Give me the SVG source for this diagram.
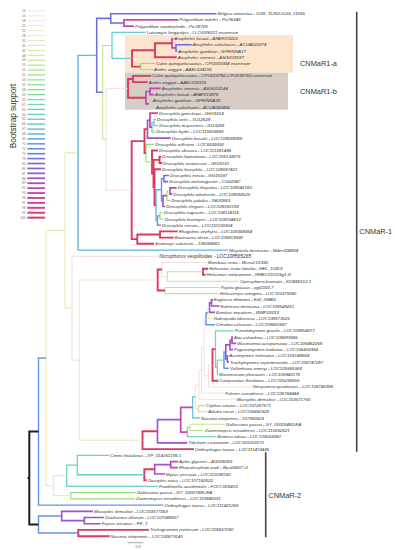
<svg xmlns="http://www.w3.org/2000/svg" width="395" height="550" viewBox="0 0 395 550">
<style>
.t{font-family:"Liberation Sans",Arial,sans-serif;font-style:italic;font-size:4.4px;fill:#333}
.lg{font-family:"Liberation Sans",Arial,sans-serif;font-size:3.4px;fill:#777;text-anchor:end}
.cl{font-family:"Liberation Sans",Arial,sans-serif;font-size:7.4px;fill:#333}
#connectors path{fill:none;stroke-linecap:butt;stroke-linejoin:miter}
.k{stroke:#1e1e1e;stroke-width:2}
.r{stroke:#dc3a5e;stroke-width:1.9}
.m{stroke:#c746b8;stroke-width:1.75}
.p{stroke:#9c55cb;stroke-width:1.65}
.v{stroke:#6a6fe0;stroke-width:1.55}
.b{stroke:#6495e5;stroke-width:1.45}
.lb{stroke:#62b4e4;stroke-width:1.4}
.c{stroke:#68cfcf;stroke-width:1.3}
.mt{stroke:#72d8a4;stroke-width:1.25}
.g{stroke:#96db75;stroke-width:1.15}
.yg{stroke:#c4e388;stroke-width:1.05}
.py{stroke:#e5e6a5;stroke-width:0.95}
.tn{stroke:#efdfb7;stroke-width:0.85}
.pc{stroke:#f3d7c6;stroke-width:0.8}
.pp{stroke:#f3cfd3;stroke-width:0.75}
.bar{stroke:#444;stroke-width:1.6;fill:none}
</style>
<g id="clade-boxes">
<rect x="125" y="35" width="168" height="37.7" fill="#fde4cc"/>
<rect x="125" y="72.7" width="163" height="37" fill="#d8ccc6"/>
</g>
<g id="legend">
<text x="16" y="116" transform="rotate(-90 16 116)" font-family="Liberation Sans,Arial,sans-serif" font-size="8.2" fill="#333" text-anchor="middle">Bootstrap support</text>
<g fill="none">
<path d="M27.3 11H45" stroke="#f3cfd3" stroke-width="0.7"/>
<path d="M27.3 15.92H45" stroke="#f4d3cd" stroke-width="0.73"/>
<path d="M27.3 20.84H45" stroke="#f3d7c6" stroke-width="0.76"/>
<path d="M27.3 25.76H45" stroke="#f1dbbf" stroke-width="0.79"/>
<path d="M27.3 30.68H45" stroke="#efdfb7" stroke-width="0.82"/>
<path d="M27.3 35.6H45" stroke="#ebe3ae" stroke-width="0.85"/>
<path d="M27.3 40.52H45" stroke="#e5e6a5" stroke-width="0.89"/>
<path d="M27.3 45.44H45" stroke="#dbe69b" stroke-width="0.92"/>
<path d="M27.3 50.36H45" stroke="#d0e591" stroke-width="0.95"/>
<path d="M27.3 55.28H45" stroke="#c4e388" stroke-width="0.98"/>
<path d="M27.3 60.2H45" stroke="#b9e180" stroke-width="1.01"/>
<path d="M27.3 65.12H45" stroke="#addf7a" stroke-width="1.04"/>
<path d="M27.3 70.04H45" stroke="#a1dd76" stroke-width="1.07"/>
<path d="M27.3 74.96H45" stroke="#96db75" stroke-width="1.1"/>
<path d="M27.3 79.88H45" stroke="#8dd977" stroke-width="1.13"/>
<path d="M27.3 84.8H45" stroke="#85d87d" stroke-width="1.16"/>
<path d="M27.3 89.72H45" stroke="#7ed887" stroke-width="1.2"/>
<path d="M27.3 94.64H45" stroke="#78d894" stroke-width="1.23"/>
<path d="M27.3 99.56H45" stroke="#73d8a1" stroke-width="1.26"/>
<path d="M27.3 104.48H45" stroke="#6fd8af" stroke-width="1.29"/>
<path d="M27.3 109.4H45" stroke="#6cd6bd" stroke-width="1.32"/>
<path d="M27.3 114.32H45" stroke="#69d2c9" stroke-width="1.35"/>
<path d="M27.3 119.24H45" stroke="#66ccd4" stroke-width="1.38"/>
<path d="M27.3 124.16H45" stroke="#64c4dd" stroke-width="1.41"/>
<path d="M27.3 129.08H45" stroke="#62bae3" stroke-width="1.44"/>
<path d="M27.3 134H45" stroke="#61afe6" stroke-width="1.47"/>
<path d="M27.3 138.92H45" stroke="#62a2e6" stroke-width="1.5"/>
<path d="M27.3 143.84H45" stroke="#6495e5" stroke-width="1.54"/>
<path d="M27.3 148.76H45" stroke="#6888e3" stroke-width="1.57"/>
<path d="M27.3 153.68H45" stroke="#6d7ce0" stroke-width="1.6"/>
<path d="M27.3 158.6H45" stroke="#7471dc" stroke-width="1.63"/>
<path d="M27.3 163.52H45" stroke="#7c68d8" stroke-width="1.66"/>
<path d="M27.3 168.44H45" stroke="#8761d4" stroke-width="1.69"/>
<path d="M27.3 173.36H45" stroke="#935acf" stroke-width="1.72"/>
<path d="M27.3 178.28H45" stroke="#9f54ca" stroke-width="1.75"/>
<path d="M27.3 183.2H45" stroke="#ab4ec4" stroke-width="1.78"/>
<path d="M27.3 188.12H45" stroke="#b74abd" stroke-width="1.81"/>
<path d="M27.3 193.04H45" stroke="#c246b4" stroke-width="1.85"/>
<path d="M27.3 197.96H45" stroke="#cb43a8" stroke-width="1.88"/>
<path d="M27.3 202.88H45" stroke="#d3409a" stroke-width="1.91"/>
<path d="M27.3 207.8H45" stroke="#d83e88" stroke-width="1.94"/>
<path d="M27.3 212.72H45" stroke="#db3c73" stroke-width="1.97"/>
<path d="M27.3 217.64H45" stroke="#dc3a5e" stroke-width="2"/>
</g>
<text class="lg" x="25.7" y="12.2">13</text>
<text class="lg" x="25.7" y="17.1">14</text>
<text class="lg" x="25.7" y="22">18</text>
<text class="lg" x="25.7" y="27">21</text>
<text class="lg" x="25.7" y="31.9">25</text>
<text class="lg" x="25.7" y="36.8">28</text>
<text class="lg" x="25.7" y="41.7">31</text>
<text class="lg" x="25.7" y="46.6">42</text>
<text class="lg" x="25.7" y="51.6">45</text>
<text class="lg" x="25.7" y="56.5">48</text>
<text class="lg" x="25.7" y="61.4">49</text>
<text class="lg" x="25.7" y="66.3">50</text>
<text class="lg" x="25.7" y="71.2">51</text>
<text class="lg" x="25.7" y="76.2">52</text>
<text class="lg" x="25.7" y="81.1">53</text>
<text class="lg" x="25.7" y="86">55</text>
<text class="lg" x="25.7" y="90.9">58</text>
<text class="lg" x="25.7" y="95.8">59</text>
<text class="lg" x="25.7" y="100.8">61</text>
<text class="lg" x="25.7" y="105.7">62</text>
<text class="lg" x="25.7" y="110.6">63</text>
<text class="lg" x="25.7" y="115.5">64</text>
<text class="lg" x="25.7" y="120.4">65</text>
<text class="lg" x="25.7" y="125.4">66</text>
<text class="lg" x="25.7" y="130.3">67</text>
<text class="lg" x="25.7" y="135.2">68</text>
<text class="lg" x="25.7" y="140.1">69</text>
<text class="lg" x="25.7" y="145">70</text>
<text class="lg" x="25.7" y="150">72</text>
<text class="lg" x="25.7" y="154.9">74</text>
<text class="lg" x="25.7" y="159.8">78</text>
<text class="lg" x="25.7" y="164.7">85</text>
<text class="lg" x="25.7" y="169.6">86</text>
<text class="lg" x="25.7" y="174.6">87</text>
<text class="lg" x="25.7" y="179.5">88</text>
<text class="lg" x="25.7" y="184.4">89</text>
<text class="lg" x="25.7" y="189.3">92</text>
<text class="lg" x="25.7" y="194.2">93</text>
<text class="lg" x="25.7" y="199.2">94</text>
<text class="lg" x="25.7" y="204.1">97</text>
<text class="lg" x="25.7" y="209">98</text>
<text class="lg" x="25.7" y="213.9">99</text>
<text class="lg" x="25.7" y="218.8">100</text>
</g>
<g id="connectors">
<path class="m" d="M178.3 19.9H124V26.1H134"/>
<path class="v" d="M216.7 13.7H110.7V23H124"/>
<path class="v" d="M191.7 44.8H176V51H177.3"/>
<path class="m" d="M173.3 38.6H172V47.9H176"/>
<path class="r" d="M172 43.25H155V57.2H176.7"/>
<path class="g" d="M155 63.5H140.5V69.7H153"/>
<path class="r" d="M155 50.23H132V66.6H140.5"/>
<path class="c" d="M145.7 32.4H112V58.4H132"/>
<path class="r" d="M151.3 75.9H133V82.1H147.7"/>
<path class="m" d="M160.7 88.3H150V94.6H154"/>
<path class="yg" d="M151.7 100.8H149V107H155"/>
<path class="p" d="M150 91.45H146V103.9H149"/>
<path class="r" d="M133 79H128V97.68H146"/>
<path class="c" d="M155.7 119.4H154V125.7H158.3"/>
<path class="c" d="M154 122.55H152V131.9H155.3"/>
<path class="m" d="M158 113.2H150V127.23H152"/>
<path class="p" d="M150 120.2H147.5V138.1H170.7"/>
<path class="v" d="M169 175.4H164V181.6H168"/>
<path class="m" d="M176.7 187.9H170V194.1H172.3"/>
<path class="g" d="M170 191H167V200.3H170.3"/>
<path class="p" d="M167 195.65H163V206.5H165.3"/>
<path class="b" d="M164 178.5H161.5V201.08H163"/>
<path class="g" d="M163 212.7H160V219H163.7"/>
<path class="b" d="M160 215.85H157.5V225.2H161"/>
<path class="lb" d="M161.5 189.79H156V220.53H157.5"/>
<path class="r" d="M161 169.2H154.5V205.16H156"/>
<path class="r" d="M161 156.8H159.5V163H162.3"/>
<path class="r" d="M159.5 159.9H153.5V187.18H154.5"/>
<path class="r" d="M158 150.5H152V173.54H153.5"/>
<path class="g" d="M154.3 144.3H146V162.02H152"/>
<path class="r" d="M147.5 129.15H144.5V153.16H146"/>
<path class="r" d="M177.7 231.4H160V237.6H173.7"/>
<path class="r" d="M160 234.5H137.3V243.8H154"/>
<path class="r" d="M144.5 141.16H131.7V239.15H137.3"/>
<path class="pp" d="M128 88.34H106V190.16H131.7"/>
<path class="yg" d="M112 45.4H102.7V139.25H106"/>
<path class="v" d="M110.7 18.35H96.7V92.33H102.7"/>
<path class="lb" d="M96.7 55.34H78V250.1H228.3"/>
<path class="r" d="M208 268.7H203V274.9H205.7"/>
<path class="yg" d="M203 271.8H167.3V281.2H239"/>
<path class="pp" d="M207 262.5H162V276.5H167.3"/>
<path class="yg" d="M219.7 287.4H165V293.6H219"/>
<path class="r" d="M162 269.5H157.7V290.5H165"/>
<path class="p" d="M213 299.8H211.5V306H219.7"/>
<path class="p" d="M211.5 302.9H209.5V312.3H215"/>
<path class="py" d="M209.5 307.6H208V318.5H213"/>
<path class="b" d="M208 313.05H206V324.7H215"/>
<path class="m" d="M233 337.1H232V343.4H236.3"/>
<path class="p" d="M232 340.25H230V349.6H233"/>
<path class="p" d="M228.3 355.8H227.3V362H229"/>
<path class="p" d="M230 344.93H225.8V358.9H227.3"/>
<path class="b" d="M225.8 351.92H224V368.2H229"/>
<path class="mt" d="M224 360.06H217.3V374.5H218"/>
<path class="mt" d="M233.7 330.9H215.5V367.28H217.3"/>
<path class="r" d="M215.5 349.09H212.5V380.7H218.3"/>
<path class="pc" d="M212.5 364.9H208.5V386.9H251.7"/>
<path class="pc" d="M206 318.88H204V375.9H208.5"/>
<path class="pc" d="M204 347.39H201.5V393.1H224"/>
<path class="pc" d="M201.5 370.25H199V399.3H235.7"/>
<path class="yg" d="M205 405.6H198.5V411.8H207.3"/>
<path class="pc" d="M199 384.78H195.5V408.7H198.5"/>
<path class="c" d="M195.5 396.74H192.7V418H200"/>
<path class="yg" d="M225 424.2H190V430.4H204"/>
<path class="mt" d="M190 427.3H187.3V436.7H216.3"/>
<path class="m" d="M192.7 407.37H180.7V432H187.3"/>
<path class="p" d="M180.7 419.69H157.5V442.9H187.3"/>
<path class="r" d="M157.5 431.3H142.5V449.1H194"/>
<path class="tn" d="M157.7 280H79.3V440.2H142.5"/>
<path class="pp" d="M158.3 256.3H72V360.1H79.3"/>
<path class="py" d="M78 152.72H65V308.2H72"/>
<path class="m" d="M178.3 461.5H170.7V467.7H178"/>
<path class="p" d="M170.7 464.6H154.7V474H165"/>
<path class="r" d="M154.7 469.3H144.3V480.2H146.7"/>
<path class="c" d="M109 455.3H77.3V474.75H144.3"/>
<path class="c" d="M77.3 465.03H66.7V486.4H158"/>
<path class="g" d="M135.7 492.6H70.7V498.8H135"/>
<path class="py" d="M66.7 475.7H53.3V495.7H70.7"/>
<path class="py" d="M65 230.46H46V485.7H53.3"/>
<path class="b" d="M46 358.08H38.5V505.1H163.3"/>
<path class="p" d="M104 517.5H84.3V523.7H100.7"/>
<path class="p" d="M93 511.3H61.7V520.6H84.3"/>
<path class="r" d="M149 529.9H78.3V536.2H109.7"/>
<path class="b" d="M61.7 515.95H38.5V533.05H78.3"/>
<path class="k" d="M38.5 431.59H29.3V524.5H38.5M27.5 478.05H29.3"/>
</g>
<g id="leaves">
<g id="n1"><text class="t" x="217.7" y="15.2">Belgica antarctica - IU25_11252-IU25_11055</text></g>
<g id="n2"><text class="t" x="179.3" y="21.4">Polypedilum nubifer - Pn.06343</text></g>
<g id="n3"><text class="t" x="135" y="27.6">Polypedilum vanderplanki - Pn.06726</text></g>
<g id="n4"><text class="t" x="146.7" y="33.9">Lutzomyia longipalpis - LLOJ006011 exonerate</text></g>
<g id="n5"><text class="t" x="174.3" y="40.1">Anopheles farauti - AFAF018223</text></g>
<g id="n6"><text class="t" x="192.7" y="46.3">Anopheles culicifacies - ACUA022074</text></g>
<g id="n7"><text class="t" x="178.3" y="52.5">Anopheles gambiae - GPRINNA17</text></g>
<g id="n8"><text class="t" x="177.7" y="58.7">Anopheles sinensis - ASIS018187</text></g>
<g id="n9"><text class="t" x="156" y="65">Culex quinquefasciatus - CPIJ000934 exonerate</text></g>
<g id="n10"><text class="t" x="154" y="71.2">Aedes aegypti - AAEL024199</text></g>
<g id="n11"><text class="t" x="152.3" y="77.4">Culex quinquefasciatus - CPIJ018762-CPIJ018763 exonerate</text></g>
<g id="n12"><text class="t" x="148.7" y="83.6">Aedes aegypti - AAEL018316</text></g>
<g id="n13"><text class="t" x="161.7" y="89.8">Anopheles sinensis - ASIS016144</text></g>
<g id="n14"><text class="t" x="155" y="96.1">Anopheles farauti - AFAF019676</text></g>
<g id="n15"><text class="t" x="152.7" y="102.3">Anopheles gambiae - GPRINNA18</text></g>
<g id="n16"><text class="t" x="156" y="108.5">Anopheles culicifacies - ACUA000456</text></g>
<g id="n17"><text class="t" x="159" y="114.7">Drosophila grimshawi - GH16314</text></g>
<g id="n18"><text class="t" x="156.7" y="120.9">Drosophila virilis - GJ12628</text></g>
<g id="n19"><text class="t" x="159.3" y="127.2">Drosophila mojavensis - GI13258</text></g>
<g id="n20"><text class="t" x="156.3" y="133.4">Drosophila hydei - LOC111603699</text></g>
<g id="n21"><text class="t" x="171.7" y="139.6">Drosophila busckii - LOC108598068</text></g>
<g id="n22"><text class="t" x="155.3" y="145.8">Drosophila willistoni - LOC6639392</text></g>
<g id="n23"><text class="t" x="159" y="152">Drosophila obscura - LOC111081446</text></g>
<g id="n24"><text class="t" x="162" y="158.3">Drosophila bipectinata - LOC108133875</text></g>
<g id="n25"><text class="t" x="163.3" y="164.5">Drosophila ananassae - GF25151</text></g>
<g id="n26"><text class="t" x="162" y="170.7">Drosophila ficusphila - LOC108087421</text></g>
<g id="n27"><text class="t" x="170" y="176.9">Drosophila erecta - GG15397</text></g>
<g id="n28"><text class="t" x="169" y="183.1">Drosophila melanogaster - CG32047</text></g>
<g id="n29"><text class="t" x="177.7" y="189.4">Drosophila rhopaloa - LOC108042160</text></g>
<g id="n30"><text class="t" x="173.3" y="195.6">Drosophila takahashii - LOC108066525</text></g>
<g id="n31"><text class="t" x="171.3" y="201.8">Drosophila yakuba - GE20863</text></g>
<g id="n32"><text class="t" x="166.3" y="208">Drosophila elegans - LOC108150189</text></g>
<g id="n33"><text class="t" x="164" y="214.2">Drosophila eugracilis - LOC108114116</text></g>
<g id="n34"><text class="t" x="164.7" y="220.5">Drosophila biarmipes - LOC108034812</text></g>
<g id="n35"><text class="t" x="162" y="226.7">Drosophila serrata - LOC110190504</text></g>
<g id="n36"><text class="t" x="178.7" y="232.9">Rhagoletis zephyria - LOC108368364</text></g>
<g id="n37"><text class="t" x="174.7" y="239.1">Bactrocera oleae - LOC106619938</text></g>
<g id="n38"><text class="t" x="155" y="245.3">Stomoxys calcitrans - 106084961</text></g>
<g id="n39"><text class="t" x="229.3" y="251.6">Mayetiola destructor - Mdes004864</text></g>
<g id="n40"><text class="t" x="159.3" y="258" style="font-size:4.9px">Nicrophorus vespilloides - LOC108565265</text></g>
<g id="n41"><text class="t" x="208" y="264">Manduca sexta - Msex2.01330</text></g>
<g id="n42"><text class="t" x="209" y="270.2">Heliconius erato lativitta - HEL_10419</text></g>
<g id="n43"><text class="t" x="206.7" y="276.4">Heliconius melpomene - HMEL011013g1.t1</text></g>
<g id="n44"><text class="t" x="240" y="282.7">Operophtera brumata - KOB68312.1</text></g>
<g id="n45"><text class="t" x="220.7" y="288.9">Papilio glaucus - pgl2100.7</text></g>
<g id="n46"><text class="t" x="220" y="295.1">Helicoverpa armigera - LOC110379380</text></g>
<g id="n47"><text class="t" x="214" y="301.3">Euglossa dilemma - Edil_09465</text></g>
<g id="n48"><text class="t" x="220.7" y="307.5">Eufriesea mexicana - LOC108548251</text></g>
<g id="n49"><text class="t" x="216" y="313.8">Bombus impatiens - BIMP20013</text></g>
<g id="n50"><text class="t" x="214" y="320">Habropoda laboriosa - LOC108571625</text></g>
<g id="n51"><text class="t" x="216" y="326.2">Ceratina calcarata - LOC108631667</text></g>
<g id="n52"><text class="t" x="234.7" y="332.4">Pseudomyrmex gracilis - LOC108854071</text></g>
<g id="n53"><text class="t" x="234" y="338.6">Atta colombica - LOC108689995</text></g>
<g id="n54"><text class="t" x="237.3" y="344.9">Wasmannia auropunctata - LOC105462258</text></g>
<g id="n55"><text class="t" x="234" y="351.1">Pogonomyrmex barbatus - LOC105433954</text></g>
<g id="n56"><text class="t" x="229.3" y="357.3">Acromyrmex echinatior - LOC105149664</text></g>
<g id="n57"><text class="t" x="230" y="363.5">Trachymyrmex septentrionalis - LOC108747287</text></g>
<g id="n58"><text class="t" x="230" y="369.7">Vollenhovia emeryi - LOC105565368</text></g>
<g id="n59"><text class="t" x="219" y="376">Monomorium pharaonis - LOC105840175</text></g>
<g id="n60"><text class="t" x="219.3" y="382.2">Camponotus floridanus - LOC105258555</text></g>
<g id="n61"><text class="t" x="252.7" y="388.4">Dinoponera quadriceps - LOC106745398</text></g>
<g id="n62"><text class="t" x="225" y="394.6">Polistes canadensis - LOC106784444</text></g>
<g id="n63"><text class="t" x="236.7" y="400.8">Microplitis demolitor - LOC103571750</text></g>
<g id="n64"><text class="t" x="206" y="407.1">Cephus cinctus - LOC107267571</text></g>
<g id="n65"><text class="t" x="208.3" y="413.3">Athalia rosae - LOC105692929</text></g>
<g id="n66"><text class="t" x="201" y="419.5">Nasonia vitripennis - 107980529</text></g>
<g id="n67"><text class="t" x="226" y="425.7">Galloisiana yuasai - GY_00003460-RA</text></g>
<g id="n68"><text class="t" x="205" y="431.9">Zootermopsis nevadensis - LOC110832621</text></g>
<g id="n69"><text class="t" x="217.3" y="438.2">Bemisia tabaci - LOC109033050</text></g>
<g id="n70"><text class="t" x="188.3" y="444.4">Tribolium castaneum - LOC103312570</text></g>
<g id="n71"><text class="t" x="195" y="450.6">Onthophagus taurus - LOC111419436</text></g>
<g id="n72"><text class="t" x="110" y="456.8">Cimex lectularius - XP_014251199.1</text></g>
<g id="n73"><text class="t" x="179.3" y="463">Aphis glycines - AG005069</text></g>
<g id="n74"><text class="t" x="179" y="469.2">Rhopalosiphum padi - Rpa05837.t1</text></g>
<g id="n75"><text class="t" x="166" y="475.5">Myzus persicae - LOC111038190</text></g>
<g id="n76"><text class="t" x="147.7" y="481.7">Diuraphis noxia - LOC107162622</text></g>
<g id="n77"><text class="t" x="159" y="487.9">Frankliniella occidentalis - FOCC005413</text></g>
<g id="n78"><text class="t" x="136.7" y="494.1">Galloisiana yuasai - GY_00007480-RA</text></g>
<g id="n79"><text class="t" x="136" y="500.3">Zootermopsis nevadensis - LOC110840031</text></g>
<g id="n80"><text class="t" x="164.3" y="506.6">Onthophagus taurus - LOC111421268</text></g>
<g id="n81"><text class="t" x="94" y="512.8">Microplitis demolitor - LOC103577359</text></g>
<g id="n82"><text class="t" x="105" y="519">Diachasma alloeum - LOC107048507</text></g>
<g id="n83"><text class="t" x="101.7" y="525.2">Fopius arisanus - FR_1</text></g>
<g id="n84"><text class="t" x="150" y="531.4">Trichogramma pretiosum - LOC106657090</text></g>
<g id="n85"><text class="t" x="110.7" y="537.7">Nasonia vitripennis - LOC100679140</text></g>
</g>
<g id="clade-labels">
<text class="cl" x="300" y="66">CNMaR1-a</text>
<text class="cl" x="300" y="94">CNMaR1-b</text>
<text class="cl" x="359.3" y="234.3">CNMaR-1</text>
<text class="cl" x="268.3" y="498.3">CNMaR-2</text>
<path class="bar" d="M356.7 11.7V451.7"/>
<path class="bar" d="M265.7 452.3V537.3"/>
</g>
<g id="scale">
<path d="M127.7 542.7H143.3" stroke="#666" stroke-width="0.6" fill="none"/>
<text x="138" y="548" font-family="Liberation Sans,Arial,sans-serif" font-size="3.6" fill="#555" text-anchor="middle">0.9</text>
</g>
</svg>
